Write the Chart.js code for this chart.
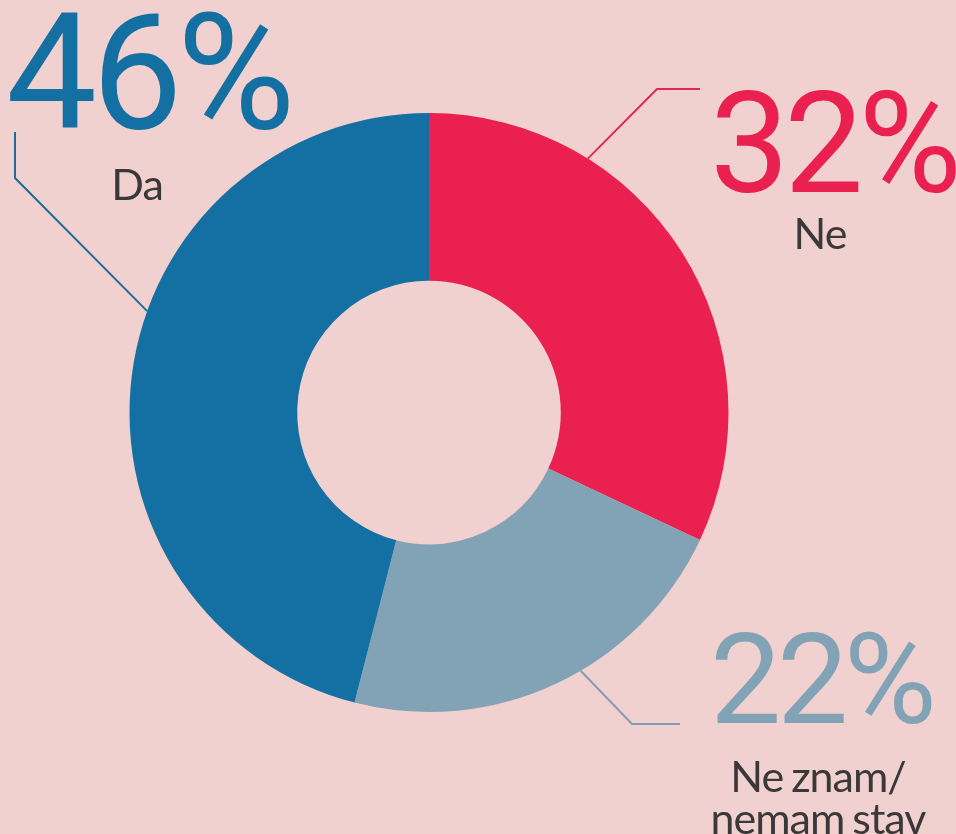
<!DOCTYPE html>
<html><head><meta charset="utf-8">
<script src="https://cdn.jsdelivr.net/npm/chart.js@4.4.0/dist/chart.umd.min.js"></script>
<style>
html,body{margin:0;padding:0;background:#f1d1d0;}
#wrap{position:relative;width:956px;height:834px;overflow:hidden;background:#f1d1d0;}
#wrap canvas{position:absolute;left:0;top:0;}
.pct{position:absolute;font-family:Roboto,sans-serif;font-weight:400;line-height:1;white-space:nowrap;letter-spacing:-0.035em;}
.lab{position:absolute;font-family:Lato,sans-serif;color:#3b3838;line-height:42px;text-align:center;white-space:nowrap;transform:translateX(-50%);letter-spacing:-1px;word-spacing:-2px;}
</style></head>
<body>
<div id="wrap"><canvas id="c" width="956" height="834"></canvas></div>
<script>
// ---- data ----
const categories = ['Ne', 'Ne znam/<br>nemam stav', 'Da'];
const values = [32, 22, 46];
const colors = ['#ea2150', '#82a3b5', '#1470a2'];
const lineColors = ['#e0294f', '#7f9fb0', '#1c6d9a'];

// ---- layout (annotation positions only) ----
const pctLayout = [
  {left: 710, top: 73, size: 141},
  {left: 710, top: 616, size: 127},
  {left: 6, top: -8, size: 162}
];
const labLayout = [
  {cx: 820, top: 212, size: 43},
  {cx: 818, top: 755, size: 43},
  {cx: 137, top: 163, size: 43}
];
// fraction along each arc where leader touches, then elbow + end points
const leaders = [
  {frac: 0.278, pts: [[657, 89], [700, 89]]},
  {frac: 0.434, pts: [[632, 724], [680, 724]]},
  {frac: 0.576, pts: [[15, 178], [15, 132]]}
];

const wrap = document.getElementById('wrap');
values.forEach((v, i) => {
  const p = document.createElement('div');
  p.className = 'pct';
  p.textContent = v + '%';
  p.style.left = pctLayout[i].left + 'px';
  p.style.top = pctLayout[i].top + 'px';
  p.style.fontSize = pctLayout[i].size + 'px';
  p.style.color = colors[i];
  wrap.appendChild(p);
  const l = document.createElement('div');
  l.className = 'lab';
  l.innerHTML = categories[i];
  l.style.left = labLayout[i].cx + 'px';
  l.style.top = labLayout[i].top + 'px';
  l.style.fontSize = labLayout[i].size + 'px';
  wrap.appendChild(l);
});

const leaderPlugin = {
  id: 'leaders',
  afterDatasetsDraw(chart) {
    const ctx = chart.ctx;
    const meta = chart.getDatasetMeta(0);
    meta.data.forEach((arc, i) => {
      const L = leaders[i];
      const a = arc.startAngle + L.frac * (arc.endAngle - arc.startAngle);
      const x0 = arc.x + Math.cos(a) * arc.outerRadius;
      const y0 = arc.y + Math.sin(a) * arc.outerRadius;
      ctx.save();
      ctx.strokeStyle = lineColors[i];
      ctx.lineWidth = 2;
      ctx.beginPath();
      ctx.moveTo(x0, y0);
      L.pts.forEach(p => ctx.lineTo(p[0], p[1]));
      ctx.stroke();
      ctx.restore();
    });
  }
};

new Chart(document.getElementById('c'), {
  type: 'doughnut',
  data: {
    labels: categories.map(c => c.replace('<br>', ' ')),
    datasets: [{
      data: values,
      backgroundColor: colors,
      borderWidth: 0,
      hoverOffset: 0
    }]
  },
  options: {
    responsive: false,
    animation: false,
    cutout: '44%',
    rotation: 0,
    layout: {padding: {left: 129, right: 227, top: 113, bottom: 122}},
    plugins: {legend: {display: false}, tooltip: {enabled: false}}
  },
  plugins: [leaderPlugin]
});
</script>
</body></html>
